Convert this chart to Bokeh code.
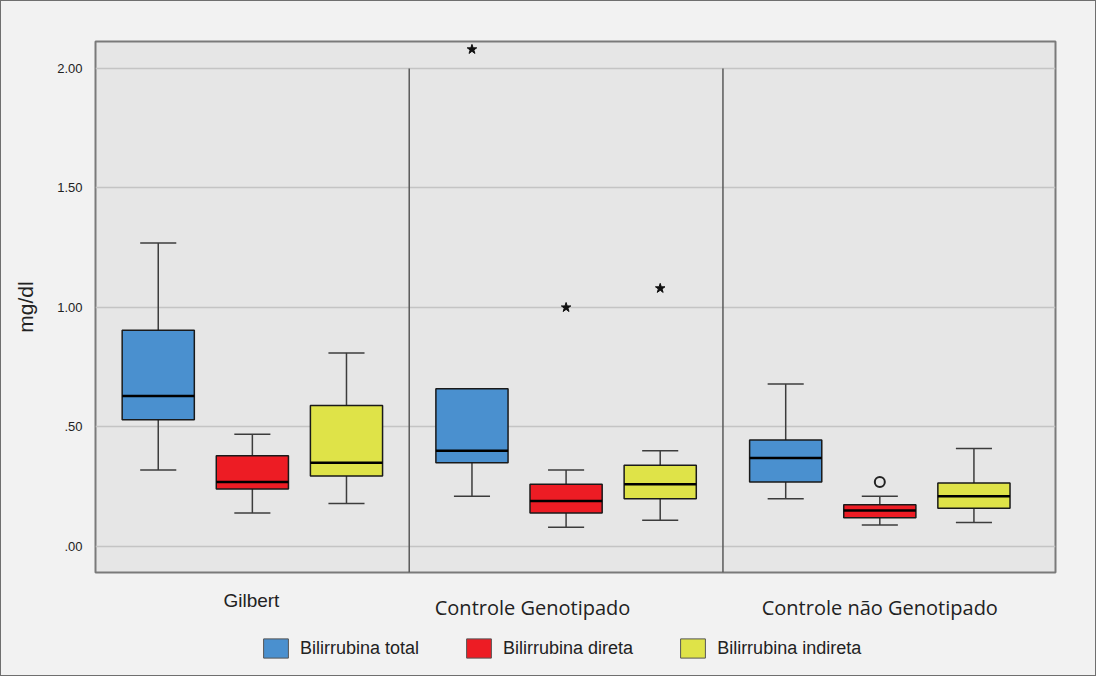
from bokeh.plotting import figure
from bokeh.layouts import column
from bokeh.models import (Range1d, FixedTicker, Legend, LegendItem, ColumnDataSource)
from bokeh.embed import file_html
from bokeh.resources import INLINE

# ---------------- data ----------------
groups = ["Gilbert", "Controle Genotipado", "Controle não Genotipado"]
series = ["Bilirrubina total", "Bilirrubina direta", "Bilirrubina indireta"]

total_low = [0.32, 0.21, 0.20]
total_q1 = [0.53, 0.35, 0.27]
total_med = [0.63, 0.40, 0.37]
total_q3 = [0.905, 0.66, 0.445]
total_high = [1.27, 0.66, 0.68]

direta_low = [0.14, 0.08, 0.09]
direta_q1 = [0.24, 0.14, 0.12]
direta_med = [0.27, 0.19, 0.15]
direta_q3 = [0.38, 0.26, 0.175]
direta_high = [0.47, 0.32, 0.21]

indireta_low = [0.18, 0.11, 0.10]
indireta_q1 = [0.295, 0.20, 0.16]
indireta_med = [0.35, 0.26, 0.21]
indireta_q3 = [0.59, 0.34, 0.265]
indireta_high = [0.81, 0.40, 0.41]

# outliers: (group index, series index, value)
extreme_group = [1, 1, 1]
extreme_series = [0, 1, 2]
extreme_value = [2.08, 1.00, 1.08]
mild_group = [2]
mild_series = [1]
mild_value = [0.27]

y_ticks = [0.0, 0.5, 1.0, 1.5, 2.0]
y_tick_labels = [".00", ".50", "1.00", "1.50", "2.00"]

# ---------------- style ----------------
colors = ["#4a90cf", "#ed1c24", "#dfe348"]
offset = 0.30
box_w = 0.23
cap_w = 0.115
BG_OUT = "#f2f2f2"
NAN = float("nan")

stats = [
    (total_low, total_q1, total_med, total_q3, total_high),
    (direta_low, direta_q1, direta_med, direta_q3, direta_high),
    (indireta_low, indireta_q1, indireta_med, indireta_q3, indireta_high),
]

xr = Range1d(0, 3.06)
y0, y1 = -0.109, 2.113
p = figure(width=1094, height=575, x_range=xr, y_range=Range1d(y0, y1),
           output_backend="svg", toolbar_location=None, x_axis_location=None,
           min_border_left=94, min_border_top=40, min_border_right=40, min_border_bottom=4)
p.background_fill_color = "#e6e6e6"
p.border_fill_color = BG_OUT
p.outline_line_color = "#7a7a7a"
p.outline_line_width = 2

p.xgrid.visible = False
p.yaxis.ticker = FixedTicker(ticks=y_ticks)
p.yaxis.major_label_overrides = {t: l for t, l in zip(y_ticks, y_tick_labels)}
p.yaxis.axis_line_color = None
p.yaxis.major_tick_line_color = None
p.yaxis.minor_tick_line_color = None
p.yaxis.major_label_standoff = 7
p.yaxis.major_label_text_font = "Liberation Sans"
p.yaxis.major_label_text_font_size = "13px"
p.yaxis.major_label_text_color = "#222222"
p.yaxis.axis_label = "mg/dl"
p.yaxis.axis_label_text_font = "Liberation Sans"
p.yaxis.axis_label_text_font_size = "21px"
p.yaxis.axis_label_text_font_style = "normal"
p.yaxis.axis_label_text_color = "#222222"
p.yaxis.axis_label_standoff = 17
p.ygrid.ticker = FixedTicker(ticks=y_ticks)
p.ygrid.grid_line_color = "#c4c4c4"
p.ygrid.grid_line_width = 1.5

# group separators
bounds = list(range(1, len(groups)))
p.segment(x0=bounds, y0=[y0] * len(bounds), x1=bounds, y1=[y_ticks[-1]] * len(bounds),
          line_color="#5a5a5a", line_width=1.5)

for j, (lo, q1, med, q3, hi) in enumerate(stats):
    xs = [i + 0.5 + (j - 1) * offset for i in range(len(groups))]
    src = ColumnDataSource(dict(
        x=xs, left=[x - box_w / 2 for x in xs], right=[x + box_w / 2 for x in xs],
        cl=[x - cap_w / 2 for x in xs], cr=[x + cap_w / 2 for x in xs],
        lo=lo, q1=q1, med=med, q3=q3, hi=hi))
    p.segment(x0="x", y0="q3", x1="x", y1="hi", source=src, line_color="#3c3c3c", line_width=1.5)
    p.segment(x0="x", y0="q1", x1="x", y1="lo", source=src, line_color="#3c3c3c", line_width=1.5)
    p.segment(x0="cl", y0="hi", x1="cr", y1="hi", source=src, line_color="#3c3c3c", line_width=1.5)
    p.segment(x0="cl", y0="lo", x1="cr", y1="lo", source=src, line_color="#3c3c3c", line_width=1.5)
    p.quad(left="left", right="right", bottom="q1", top="q3", source=src,
           fill_color=colors[j], line_color="#1a1a1a", line_width=1.5)
    p.segment(x0="left", y0="med", x1="right", y1="med", source=src,
              line_color="#000000", line_width=2.5)

ex_x = [g + 0.5 + (s - 1) * offset for g, s in zip(extreme_group, extreme_series)]
p.scatter(x=ex_x, y=extreme_value, marker="star", size=10,
          fill_color="#111111", line_color="#111111")
mi_x = [g + 0.5 + (s - 1) * offset for g, s in zip(mild_group, mild_series)]
p.scatter(x=mi_x, y=mild_value, marker="circle", size=10, fill_alpha=0,
          line_color="#222222", line_width=2)

# ---------------- bottom strip: category labels + legend ----------------
strip_h = 99
p2 = figure(width=1094, height=strip_h, x_range=xr, y_range=Range1d(strip_h, 0),
            output_backend="svg", toolbar_location=None,
            x_axis_location=None, y_axis_location=None,
            min_border_left=94, min_border_right=40, min_border_top=0, min_border_bottom=0)
p2.background_fill_color = BG_OUT
p2.border_fill_color = BG_OUT
p2.outline_line_color = None
p2.grid.visible = False

label_shift = [-0.003, -0.107, 0.0]
label_y = [24, 31, 31]
label_font = ["Liberation Sans", "Open Sans", "Open Sans"]
label_size = ["19px", "20px", "20px"]
lab_src = ColumnDataSource(dict(
    x=[i + 0.5 + label_shift[i] for i in range(len(groups))], y=label_y,
    text=groups, font=label_font, size=label_size))
p2.text(x="x", y="y", text="text", source=lab_src, text_font="font",
        text_font_size="size", text_align="center", text_baseline="alphabetic",
        text_color="#222222")

# legend swatches (renderers with no visible data, only used for the legend)
dummies = [p2.quad(left=[NAN], right=[NAN], bottom=[NAN], top=[NAN], fill_color=c,
                   line_color="#555555", line_width=1) for c in colors]
legend = Legend(items=[LegendItem(label=s, renderers=[r]) for s, r in zip(series, dummies)],
                location=(165, 15), orientation="horizontal",
                glyph_width=31, glyph_height=24, label_standoff=9, spacing=44,
                padding=0, margin=0, border_line_color=None, background_fill_alpha=0,
                label_text_font="Liberation Sans", label_text_font_size="18px",
                label_text_color="#222222")
p2.add_layout(legend)

layout = column(p, p2, spacing=0,
                styles={"border": "1px solid #6f6f6f", "background-color": BG_OUT})
open("out.html", "w").write(file_html(layout, INLINE))
